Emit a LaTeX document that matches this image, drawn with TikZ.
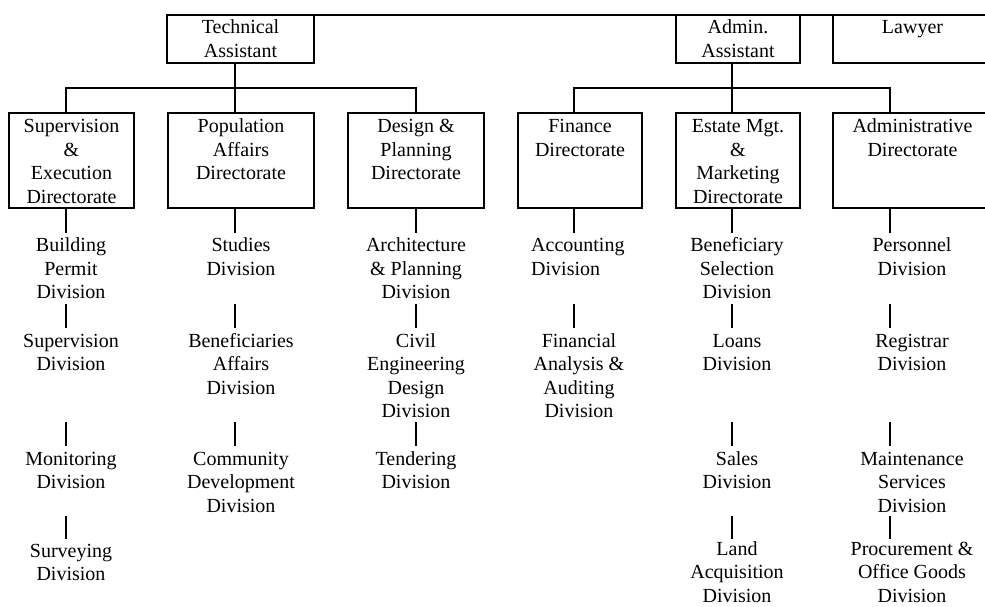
\documentclass[tikz,border=0pt]{standalone}
\usepackage{fontspec}
\setmainfont{Liberation Serif}
\newcommand{\ml}[1]{\begin{tabular}[t]{@{}c@{}}#1\end{tabular}}
\newcommand{\mll}[1]{\begin{tabular}[t]{@{}l@{}}#1\end{tabular}}
\begin{document}
\begin{tikzpicture}[x=1pt,y=-1pt,
  box/.style={draw, line width=1.6pt, inner sep=0pt, outer sep=0pt, anchor=north west},
  txt/.style={inner sep=0pt, anchor=base, font=\fontsize{20}{23.5}\selectfont},
  conn/.style={line width=1.6pt}]
\useasboundingbox (0,0) rectangle (985,607);
\clip (0,0) rectangle (985,607);
\fill[white] (0,0) rectangle (985,607);

% top level boxes
\node[box, minimum width=147pt, minimum height=48pt] (ta) at (167,15) {};
\node[box, minimum width=124pt, minimum height=48pt] (aa) at (676,15) {};
\node[box, minimum width=159pt, minimum height=48pt] (law) at (833,15) {};
% directorates
\node[box, minimum width=125pt, minimum height=95pt] (d1) at (9,113) {};
\node[box, minimum width=146pt, minimum height=95pt] (d2) at (168,113) {};
\node[box, minimum width=136pt, minimum height=95pt] (d3) at (348,113) {};
\node[box, minimum width=124pt, minimum height=95pt] (d4) at (518,113) {};
\node[box, minimum width=124pt, minimum height=95pt] (d5) at (676,113) {};
\node[box, minimum width=159pt, minimum height=95pt] (d6) at (833,113) {};

% box texts
\node[txt] (tat) at ([yshift=-19pt]ta.north) {\ml{Technical\\Assistant}};
\node[txt] (aat) at ([yshift=-19pt]aa.north) {\ml{Admin.\\Assistant}};
\node[txt] (lawt) at ([yshift=-19pt]law.north) {Lawyer};
\node[txt] (d1t) at ([yshift=-20pt]d1.north) {\ml{Supervision\\\&\\Execution\\Directorate}};
\node[txt] (d2t) at ([yshift=-20pt]d2.north) {\ml{Population\\Affairs\\Directorate}};
\node[txt] (d3t) at ([yshift=-20pt]d3.north) {\ml{Design \&\\Planning\\Directorate}};
\node[txt] (d4t) at ([yshift=-20pt]d4.north) {\ml{Finance\\Directorate}};
\node[txt] (d5t) at ([yshift=-20pt]d5.north) {\ml{Estate Mgt.\\\&\\Marketing\\Directorate}};
\node[txt] (d6t) at ([yshift=-20pt]d6.north) {\ml{Administrative\\Directorate}};

% column line positions and row levels
\coordinate (c1) at (66,0);
\coordinate (c2) at (235,0);
\coordinate (c3) at (416,0);
\coordinate (c4) at (574,0);
\coordinate (c5) at (732,0);
\coordinate (c6) at (890,0);
\coordinate (hl) at (0,88);
\coordinate (yA) at (0,233);
\coordinate (yB1) at (0,304);
\coordinate (yB2) at (0,328);
\coordinate (yC1) at (0,422);
\coordinate (yC2) at (0,446);
\coordinate (yD1) at (0,516);
\coordinate (yD2) at (0,539);

% top line
\draw[conn] (ta.north east) -- (aa.north west);
\draw[conn] (aa.north east) -- (law.north west);

% hierarchy connectors
\draw[conn] (c2 |- ta.south) -- (c2 |- d2.north);
\draw[conn] (c1 |- d1.north) -- (c1 |- hl) -- (c3 |- hl) -- (c3 |- d3.north);
\draw[conn] (c5 |- aa.south) -- (c5 |- d5.north);
\draw[conn] (c4 |- d4.north) -- (c4 |- hl) -- (c6 |- hl) -- (c6 |- d6.north);

% divisions
\node[txt] (bp) at (71,251.5) {\ml{Building\\Permit\\Division}};
\node[txt] (sv) at (71,347) {\ml{Supervision\\Division}};
\node[txt] (mo) at (71,465) {\ml{Monitoring\\Division}};
\node[txt] (su) at (71,557) {\ml{Surveying\\Division}};

\node[txt] (st) at (241,251.5) {\ml{Studies\\Division}};
\node[txt] (ba) at (241,347) {\ml{Beneficiaries\\Affairs\\Division}};
\node[txt] (cd) at (241,465) {\ml{Community\\Development\\Division}};

\node[txt] (ap) at (416,251.5) {\ml{Architecture\\\& Planning\\Division}};
\node[txt] (ce) at (416,347) {\ml{Civil\\Engineering\\Design\\Division}};
\node[txt] (te) at (416,465) {\ml{Tendering\\Division}};

\node[txt, anchor=base west] (ac) at (531,251.5) {\mll{Accounting\\Division}};
\node[txt] (fa) at (579,347) {\ml{Financial\\Analysis \&\\Auditing\\Division}};

\node[txt] (bs) at (737,251.5) {\ml{Beneficiary\\Selection\\Division}};
\node[txt] (lo) at (737,347) {\ml{Loans\\Division}};
\node[txt] (sa) at (737,465) {\ml{Sales\\Division}};
\node[txt] (la) at (737,555) {\ml{Land\\Acquisition\\Division}};

\node[txt] (pe) at (912,251.5) {\ml{Personnel\\Division}};
\node[txt] (re) at (912,347) {\ml{Registrar\\Division}};
\node[txt] (ma) at (912,465) {\ml{Maintenance\\Services\\Division}};
\node[txt] (pr) at (912,555) {\ml{Procurement \&\\Office Goods\\Division}};

% directorate to first division
\draw[conn] (c1 |- d1.south) -- (c1 |- yA);
\draw[conn] (c2 |- d2.south) -- (c2 |- yA);
\draw[conn] (c3 |- d3.south) -- (c3 |- yA);
\draw[conn] (c4 |- d4.south) -- (c4 |- yA);
\draw[conn] (c5 |- d5.south) -- (c5 |- yA);
\draw[conn] (c6 |- d6.south) -- (c6 |- yA);

% between divisions
\foreach \c in {c1,c2,c3,c4,c5,c6} {\draw[conn] (\c |- yB1) -- (\c |- yB2);}
\foreach \c in {c1,c2,c3,c5,c6} {\draw[conn] (\c |- yC1) -- (\c |- yC2);}
\foreach \c in {c1,c5,c6} {\draw[conn] (\c |- yD1) -- (\c |- yD2);}
\end{tikzpicture}
\end{document}
